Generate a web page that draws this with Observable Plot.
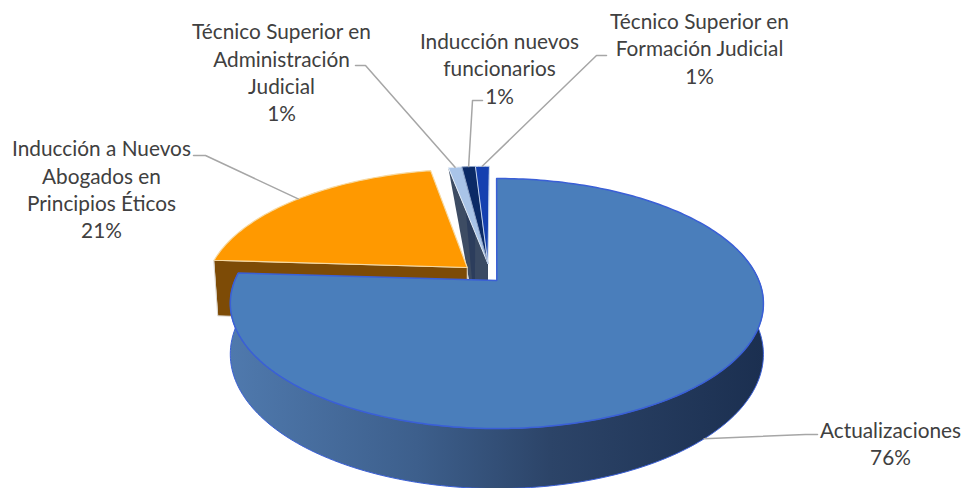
<!DOCTYPE html>
<html><head><meta charset="utf-8">
<script src="https://cdn.jsdelivr.net/npm/d3@7"></script>
<script src="https://cdn.jsdelivr.net/npm/@observablehq/plot@0.6"></script>
<style>html,body{margin:0;padding:0;background:#fff;overflow:hidden}svg{display:block;background:#fff}</style>
</head><body><div id="chart"></div>
<script>
// Data, in drawing order (clockwise from 12 o'clock)
const categories = ["Actualizaciones","Inducción a Nuevos\nAbogados en\nPrincipios Éticos","Técnico Superior en\nAdministración\nJudicial","Inducción nuevos\nfuncionarios","Técnico Superior en\nFormación Judicial"];
const shares = [76,21,1,1,1];
const tops = ["#4a7ebb","#ff9900","#a9c4e8","#0b2a66","#1540b0"];
const walls = ["url(#wallBlue)","#7d4b06","#3d4c63","#2c3d5c","#3a4a63"];
const rims = ["#3a5fd6","#f7d9a0","#e3ebf5","#8ea3c8","#c3d3ec"];

// Projection of the tilted pie
const W=964,H=488,cx=495,cy=280,Rx=262,Ry=120.8,k=0.184,depth=49;
const explode=[[0.005,0],[-0.11,0.11],[-0.03,0.145],[-0.03,0.145],[-0.03,0.145]];
const total=d3.sum(shares);
const P=(U,D,h=0)=>{const s=1/(1+k*D);return [cx+Rx*U*s,cy-Ry*D*s+depth*h*s];};
let acc=0;
const slices=shares.map((v,i)=>{const a0=acc/total*2*Math.PI;acc+=v;const a1=acc/total*2*Math.PI;return {i,a0,a1,mid:(a0+a1)/2,O:explode[i]};});
const rimPt=(sl,a,h=0)=>P(sl.O[0]+Math.sin(a),sl.O[1]+Math.cos(a),h);
const arc=(sl,a0,a1,h=0)=>{const n=Math.max(2,Math.ceil(Math.abs(a1-a0)/0.02));return d3.range(n+1).map(j=>rimPt(sl,a0+(a1-a0)*j/n,h));};
const poly=(pts,fill,stroke,sw=1)=>Plot.line(pts,{x:d=>d[0],y:d=>d[1],fill,stroke,strokeWidth:sw,curve:"linear-closed"});

const apex=(sl,h=0)=>P(sl.O[0],sl.O[1],h);
const marks=[];
marks.push(()=>{const d=d3.create("svg:defs");const g=d.append("linearGradient").attr("id","wallBlue");
  [[0,"#4f79ad"],[0.35,"#3d5f8c"],[0.6,"#2c4468"],[1,"#1b2f50"]].forEach(([o,c])=>g.append("stop").attr("offset",o).attr("stop-color",c));return d.node();});
// small slices: radial wall then top face
[2,3,4].forEach(i=>{const sl=slices[i];
  const a=apex(sl),f=apex(sl,1),r=rimPt(sl,sl.a0);
  marks.push(poly([r,a,f,[f[0]-13,f[1]]],walls[i],"none"));
});
[2,3,4].forEach(i=>{const sl=slices[i];
  marks.push(poly([apex(sl),...arc(sl,sl.a0,sl.a1)],tops[i],rims[i],1));
});
// orange slice
{const sl=slices[1];
 const foot=rimPt(sl,sl.a0,1.17);
 marks.push(poly([rimPt(sl,sl.a0),apex(sl),apex(sl,1.17),[foot[0]+4,foot[1]]],walls[1],"#d9d4cc",1));
 marks.push(poly([apex(sl),...arc(sl,sl.a0,sl.a1)],tops[1],rims[1],1.2));}
// main slice
{const sl=slices[0];
 const a1=sl.a1;
 const lo=Math.PI*0.42,hi=a1;
 marks.push(poly([...arc(sl,lo,hi),...arc(sl,hi,lo,1)],walls[0],"#3a5fd6",1));
 marks.push(poly([apex(sl),...arc(sl,0,a1)],tops[0],rims[0],1.5));}

// Leader lines
const lineStyle={x:d=>d[0],y:d=>d[1],stroke:"#a6a6a6",strokeWidth:1.5};
const leaders=[
 [[355,65],[365,65],rimPt(slices[2],slices[2].mid)],
 [[482,100],[472,100],rimPt(slices[3],slices[3].mid)],
 [[606,55],[596,55],rimPt(slices[4],slices[4].mid)],
 [[193,155],[205,155],rimPt(slices[1],slices[1].mid)],
 [[817,434],[805,434],rimPt(slices[0],slices[0].mid,1)]
];
leaders.forEach(l=>marks.push(Plot.line(l,lineStyle)));

// Labels
const labelSpots=[[890,442],[101,188],[281,71],[499,67],[699,47]];
const labels=categories.map((c,i)=>({text:c+"\n"+shares[i]+"%",x:labelSpots[i][0],y:labelSpots[i][1]}));
marks.push(Plot.text(labels,{x:"x",y:"y",text:"text",fontSize:20.8,lineHeight:1.32,fill:"#404040",fontFamily:"Lato",textAnchor:"middle"}));

document.getElementById("chart").append(Plot.plot({width:W,height:H,margin:0,
 x:{domain:[0,W],range:[0,W],axis:null},y:{domain:[0,H],range:[0,H],axis:null},marks}));
</script></body></html>
